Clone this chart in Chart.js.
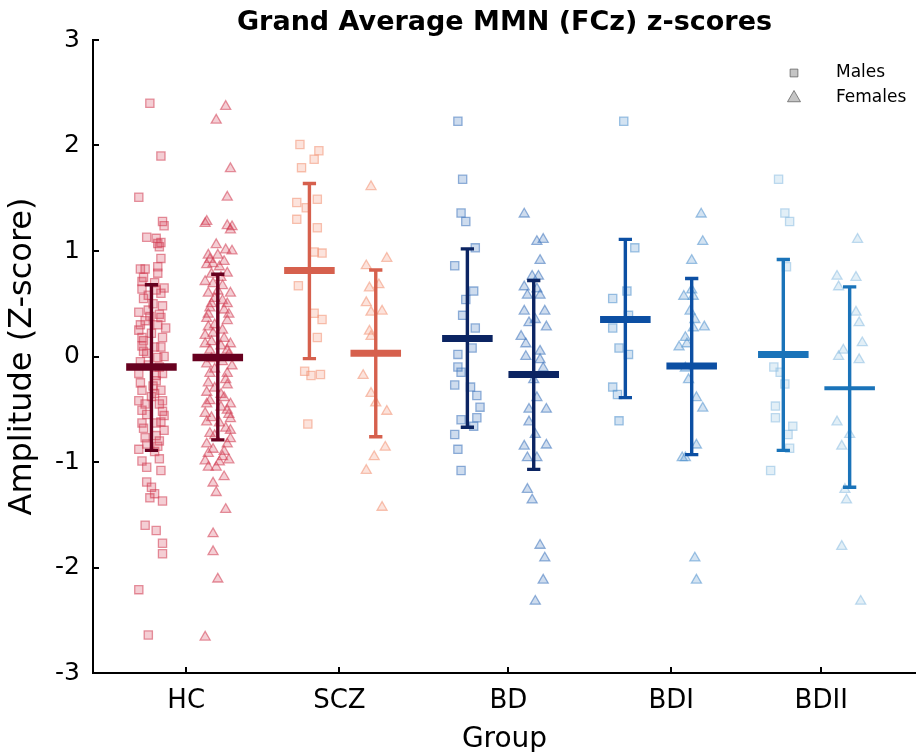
<!DOCTYPE html>
<html>
<head>
<meta charset="utf-8">
<script src="https://cdn.jsdelivr.net/npm/chart.js@4.4.1/dist/chart.umd.min.js"></script>
<style>
  html, body { margin: 0; padding: 0; background: #fff; }
  canvas { display: block; }
</style>
</head>
<body>
<canvas id="chart" width="916" height="752"></canvas>
<script>
// groups on the x axis and where their tick labels sit
const groups = ['HC', 'SCZ', 'BD', 'BDI', 'BDII'];
const groupTickX = [1.01, 1.98, 3.05, 4.08, 5.03];

// single subjects: [horizontal jitter, z-score]
const hcMales = [[-0.01,2.40],[0.06,1.90],[-0.08,1.51],[0.07,1.28],[0.08,1.24],[-0.03,1.13],[0.03,1.12],[0.04,1.07],[0.06,1.08],[0.05,1.04],[0.06,0.93],[-0.07,0.83],[-0.04,0.83],[0.04,0.85],[0.04,0.79],[-0.05,0.75],[-0.06,0.71],[0.02,0.70],[0.08,0.65],[-0.06,0.64],[0.03,0.63],[0.06,0.60],[-0.02,0.58],[-0.05,0.55],[0.01,0.50],[0.07,0.48],[-0.02,0.44],[-0.08,0.42],[0.05,0.40],[-0.01,0.38],[0.06,0.37],[-0.04,0.34],[-0.07,0.30],[0.04,0.30],[0.09,0.27],[-0.08,0.25],[0.00,0.22],[0.07,0.18],[-0.06,0.18],[-0.05,0.15],[-0.06,0.10],[0.02,0.09],[0.06,0.09],[-0.05,0.05],[-0.03,0.03],[0.08,0.00],[0.04,-0.01],[-0.07,-0.05],[-0.02,-0.08],[0.05,-0.10],[-0.08,-0.16],[0.07,-0.16],[0.03,-0.18],[0.03,-0.23],[-0.07,-0.25],[0.01,-0.28],[0.06,-0.32],[-0.06,-0.32],[0.02,-0.35],[0.00,-0.38],[-0.08,-0.42],[0.07,-0.42],[-0.04,-0.45],[0.05,-0.45],[-0.06,-0.51],[0.07,-0.52],[-0.03,-0.55],[0.08,-0.56],[0.06,-0.62],[-0.06,-0.63],[0.03,-0.63],[-0.05,-0.68],[0.08,-0.70],[0.03,-0.75],[-0.04,-0.77],[0.05,-0.80],[-0.03,-0.83],[0.04,-0.85],[-0.08,-0.88],[0.02,-0.90],[0.05,-0.97],[-0.06,-0.99],[-0.03,-1.05],[0.06,-1.08],[-0.03,-1.19],[0.00,-1.24],[0.02,-1.30],[-0.01,-1.34],[0.07,-1.37],[-0.04,-1.60],[0.03,-1.65],[0.07,-1.77],[0.07,-1.87],[-0.08,-2.21],[-0.02,-2.64]];
const hcFemales = [[0.05,2.37],[-0.01,2.24],[0.08,1.78],[0.06,1.51],[-0.07,1.28],[-0.08,1.26],[0.06,1.24],[0.09,1.23],[0.08,1.20],[-0.01,1.06],[0.05,1.01],[0.09,1.00],[-0.06,0.96],[0.00,0.96],[-0.05,0.92],[0.04,0.90],[-0.03,0.88],[-0.07,0.87],[0.01,0.85],[0.06,0.79],[-0.04,0.78],[0.02,0.75],[-0.08,0.71],[-0.03,0.69],[0.03,0.67],[0.00,0.62],[0.08,0.60],[-0.06,0.60],[-0.02,0.55],[0.03,0.53],[0.06,0.50],[-0.04,0.50],[-0.05,0.46],[0.04,0.44],[0.07,0.40],[-0.06,0.40],[-0.07,0.36],[0.06,0.34],[-0.02,0.30],[-0.06,0.28],[0.03,0.25],[-0.03,0.22],[-0.08,0.20],[0.04,0.17],[-0.04,0.14],[0.08,0.12],[-0.08,0.12],[0.02,0.10],[-0.05,0.06],[0.06,0.06],[0.07,0.02],[-0.04,-0.02],[0.03,-0.05],[-0.07,-0.07],[0.09,-0.09],[-0.02,-0.12],[-0.05,-0.16],[0.06,-0.16],[0.05,-0.22],[-0.06,-0.25],[0.06,-0.27],[-0.02,-0.30],[-0.07,-0.34],[0.02,-0.36],[0.04,-0.39],[-0.05,-0.42],[-0.07,-0.45],[0.08,-0.45],[0.02,-0.48],[0.06,-0.51],[-0.08,-0.54],[0.07,-0.55],[-0.04,-0.58],[0.08,-0.59],[-0.07,-0.62],[0.01,-0.63],[0.05,-0.68],[0.08,-0.70],[-0.05,-0.73],[-0.02,-0.75],[0.08,-0.78],[0.06,-0.83],[-0.07,-0.83],[-0.03,-0.88],[0.04,-0.90],[-0.06,-0.92],[0.03,-0.95],[0.07,-0.98],[-0.08,-0.99],[0.01,-1.00],[-0.06,-1.05],[-0.01,-1.05],[0.04,-1.14],[-0.03,-1.20],[-0.01,-1.29],[0.05,-1.45],[-0.03,-1.68],[-0.03,-1.85],[0.00,-2.11],[-0.08,-2.66]];
const sczMales = [[-0.06,2.01],[0.06,1.95],[0.03,1.87],[-0.05,1.79],[-0.08,1.46],[0.05,1.49],[-0.02,1.41],[-0.08,1.30],[0.05,1.22],[0.03,0.99],[0.08,0.98],[-0.07,0.67],[0.03,0.41],[0.08,0.35],[0.05,0.18],[-0.03,-0.14],[0.01,-0.18],[0.07,-0.17],[-0.01,-0.64]];
const sczFemales = [[-0.03,1.61],[0.07,0.93],[-0.06,0.86],[-0.04,0.65],[0.02,0.68],[-0.06,0.51],[-0.03,0.42],[0.04,0.43],[-0.04,0.24],[-0.03,0.19],[-0.08,-0.18],[-0.03,-0.35],[0.00,-0.44],[0.07,-0.52],[0.06,-0.86],[-0.01,-0.95],[-0.06,-1.08],[0.04,-1.43]];
const bdMales = [[-0.06,2.23],[-0.03,1.68],[-0.04,1.36],[-0.01,1.28],[0.05,1.03],[-0.08,0.86],[0.04,0.62],[-0.01,0.54],[-0.03,0.39],[0.05,0.27],[0.03,0.08],[-0.06,0.02],[-0.06,-0.10],[-0.04,-0.15],[-0.08,-0.27],[0.02,-0.29],[0.06,-0.37],[0.08,-0.48],[0.06,-0.58],[-0.04,-0.60],[0.04,-0.66],[-0.08,-0.74],[-0.06,-0.88],[-0.04,-1.08]];
const bdFemales = [[-0.06,1.35],[0.02,1.09],[0.06,1.11],[0.04,0.91],[-0.01,0.76],[0.03,0.76],[-0.06,0.66],[0.02,0.64],[-0.04,0.58],[0.04,0.58],[-0.06,0.43],[0.07,0.43],[-0.03,0.32],[0.01,0.35],[0.08,0.28],[-0.08,0.19],[-0.05,0.12],[-0.05,0.00],[0.04,0.05],[0.04,-0.03],[0.06,-0.11],[0.00,-0.22],[0.02,-0.39],[-0.03,-0.50],[0.08,-0.50],[-0.03,-0.62],[0.01,-0.74],[-0.06,-0.85],[0.08,-0.84],[-0.04,-0.96],[0.02,-0.96],[-0.04,-1.26],[-0.01,-1.36],[0.04,-1.79],[0.07,-1.91],[0.06,-2.12],[0.01,-2.32]];
const bdiMales = [[-0.01,2.23],[0.06,1.03],[0.01,0.62],[-0.08,0.55],[0.02,0.39],[-0.08,0.27],[-0.04,0.08],[0.02,0.02],[-0.08,-0.29],[-0.05,-0.36],[-0.04,-0.61]];
const bdiFemales = [[0.06,1.35],[0.07,1.09],[0.00,0.91],[0.00,0.63],[-0.05,0.57],[0.01,0.57],[-0.01,0.43],[0.02,0.35],[0.08,0.28],[0.01,0.27],[-0.04,0.18],[-0.08,0.09],[-0.03,0.12],[-0.04,-0.11],[-0.02,-0.22],[0.03,-0.39],[0.07,-0.49],[0.03,-0.84],[-0.06,-0.96],[-0.04,-0.96],[0.02,-1.91],[0.03,-2.12]];
const bdiiMales = [[-0.03,1.68],[0.01,1.36],[0.04,1.28],[0.02,0.85],[-0.06,-0.10],[-0.02,-0.15],[0.01,-0.26],[-0.05,-0.47],[-0.05,-0.58],[0.06,-0.66],[0.03,-0.74],[0.04,-0.87],[-0.08,-1.08]];
const bdiiFemales = [[0.05,1.11],[-0.08,0.76],[0.04,0.75],[-0.07,0.66],[0.04,0.42],[0.06,0.32],[0.08,0.13],[-0.04,0.06],[-0.07,0.00],[0.06,-0.03],[-0.08,-0.62],[0.00,-0.74],[-0.05,-0.85],[-0.03,-1.26],[-0.02,-1.36],[-0.05,-1.80],[0.07,-2.32]];

// group means and error bar ends
const meanMales = [-0.10, 0.815, 0.17, 0.35, 0.02];
const lowMales = [-0.89, -0.02, -0.67, -0.39, -0.89];
const highMales = [0.68, 1.64, 1.02, 1.11, 0.92];
const meanFemales = [-0.01, 0.03, -0.17, -0.09, -0.30];
const lowFemales = [-0.79, -0.76, -1.07, -0.93, -1.24];
const highFemales = [0.78, 0.82, 0.72, 0.74, 0.66];

// styling
const barColors = ['#67001f', '#d6604d', '#0b2462', '#0c4fa3', '#1a73b9'];
const dotColors = [[210, 60, 82], [242, 145, 115], [60, 115, 188], [80, 145, 205], [140, 190, 225]];
const FONT = '"DejaVu Sans", sans-serif';
Chart.defaults.font.family = FONT;
Chart.defaults.color = '#000';

const subgroups = [
  { shift: -0.21, points: [hcMales, sczMales, bdMales, bdiMales, bdiiMales], mean: meanMales, lo: lowMales, hi: highMales, style: 'rect', meanWidth: [7.5, 7, 7, 7, 7] },
  { shift: 0.21, points: [hcFemales, sczFemales, bdFemales, bdiFemales, bdiiFemales], mean: meanFemales, lo: lowFemales, hi: highFemales, style: 'triangle', meanWidth: [7.5, 7, 7, 7, 4] }
];
const CAP = 0.042, HALF = 0.16;

const datasets = [];
groups.forEach((g, i) => {
  subgroups.forEach(s => {
    const x = i + 1 + s.shift;
    const [r, gr, b] = dotColors[i];
    datasets.push({
      data: s.points[i].map(([dx, v]) => ({ x: x + dx, y: v })),
      pointStyle: s.style,
      pointRadius: 5.8,
      backgroundColor: `rgba(${r},${gr},${b},0.25)`,
      borderColor: `rgba(${r},${gr},${b},0.55)`,
      borderWidth: 1.3,
      order: 2
    });
    // whisker with caps, broken by null points
    datasets.push({
      data: [
        { x: x - CAP, y: s.hi[i] }, { x: x + CAP, y: s.hi[i] }, { x: x, y: null },
        { x: x, y: s.hi[i] }, { x: x, y: s.lo[i] }, { x: x, y: null },
        { x: x - CAP, y: s.lo[i] }, { x: x + CAP, y: s.lo[i] }
      ],
      showLine: true,
      spanGaps: false,
      pointRadius: 0,
      borderColor: barColors[i],
      borderWidth: 3.4,
      order: 1
    });
    // mean bar
    datasets.push({
      data: [{ x: x - HALF, y: s.mean[i] }, { x: x + HALF, y: s.mean[i] }],
      showLine: true,
      pointRadius: 0,
      borderColor: barColors[i],
      borderWidth: s.meanWidth[i],
      borderCapStyle: 'butt',
      order: 0
    });
  });
});

// Males / Females key in the top right corner
const sexLegend = {
  id: 'sexLegend',
  afterDraw(chart) {
    const { ctx, chartArea } = chart;
    const mx = chartArea.right - 122, tx = chartArea.right - 80;
    const rows = [['Males', 'rect', chartArea.top + 33, 5.5], ['Females', 'triangle', chartArea.top + 58, 7.5]];
    ctx.save();
    ctx.font = '17px ' + FONT;
    ctx.textBaseline = 'middle';
    ctx.textAlign = 'left';
    rows.forEach(([label, style, y, rad]) => {
      ctx.fillStyle = 'rgba(150,150,150,0.55)';
      ctx.strokeStyle = 'rgba(95,95,95,0.75)';
      ctx.lineWidth = 1;
      Chart.helpers.drawPoint(ctx, { pointStyle: style, radius: rad, rotation: 0, borderWidth: 1 }, mx, y);
      ctx.fillStyle = '#000';
      ctx.fillText(label, tx, y);
    });
    ctx.restore();
  }
};

new Chart(document.getElementById('chart'), {
  type: 'scatter',
  data: { datasets },
  options: {
    responsive: false,
    animation: false,
    layout: { autoPadding: false, padding: 0 },
    plugins: {
      legend: { display: false },
      tooltip: { enabled: false },
      title: {
        display: true,
        text: 'Grand Average MMN (FCz) z-scores',
        fullSize: false,
        color: '#000',
        font: { size: 27, weight: 'bold' },
        padding: { top: 7, bottom: 0.6 }
      }
    },
    scales: {
      x: {
        type: 'linear',
        min: 0.42,
        max: 5.63,
        afterBuildTicks: axis => { axis.ticks = groupTickX.map(v => ({ value: v })); },
        afterFit: axis => { axis.height = 79; axis.paddingLeft = 0; axis.paddingRight = 0; },
        ticks: { callback: (v, i) => groups[i], autoSkip: false, maxRotation: 0, padding: 19, font: { size: 26 }, color: '#000' },
        grid: { drawOnChartArea: false, tickLength: -6, color: '#000', lineWidth: 2 },
        border: { color: '#000', width: 2 },
        title: { display: true, text: 'Group', font: { size: 28 }, color: '#000', padding: { top: 0, bottom: -5 } }
      },
      y: {
        min: -3,
        max: 3,
        afterFit: axis => { axis.width = 93; },
        ticks: { stepSize: 1, padding: 19, font: { size: 25 }, color: '#000' },
        grid: { drawOnChartArea: false, tickLength: -6, color: '#000', lineWidth: 2 },
        border: { color: '#000', width: 2 },
        title: { display: true, text: 'Amplitude (Z-score)', font: { size: 32 }, color: '#000', padding: { top: 3, bottom: 0 } }
      }
    }
  },
  plugins: [sexLegend]
});
</script>
</body>
</html>
